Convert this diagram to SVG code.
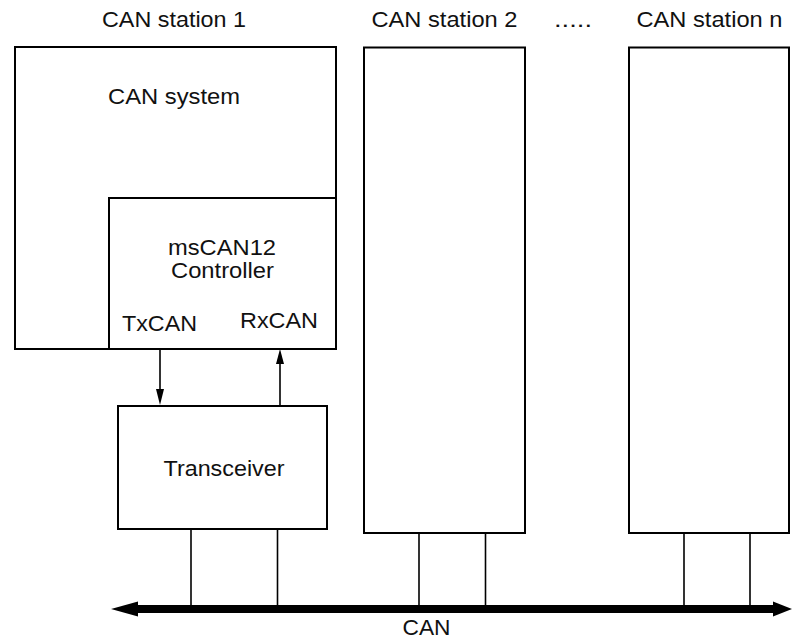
<svg xmlns="http://www.w3.org/2000/svg" width="792" height="639" viewBox="0 0 792 639">
<style>
.box{fill:none;stroke:#000;stroke-width:2}
.ln{fill:none;stroke:#000;stroke-width:1.6}
.t{font-family:"Liberation Sans",Arial,sans-serif;font-size:22px;fill:#111}
</style>
<rect width="792" height="639" fill="#fff"/>
<g id="labels">
<text class="t" x="102" y="27" textLength="144" lengthAdjust="spacingAndGlyphs">CAN station 1</text>
<text class="t" x="371.5" y="27" textLength="146" lengthAdjust="spacingAndGlyphs">CAN station 2</text>
<text class="t" x="554" y="27" textLength="38" lengthAdjust="spacingAndGlyphs">.....</text>
<text class="t" x="636.5" y="27" textLength="146" lengthAdjust="spacingAndGlyphs">CAN station n</text>
</g>
<g id="station1">
<rect class="box" x="15" y="47" width="321" height="302"/>
<text class="t" x="108" y="104" textLength="132" lengthAdjust="spacingAndGlyphs">CAN system</text>
</g>
<g id="controller">
<rect class="box" x="109" y="198" width="227" height="151"/>
<text class="t" x="168" y="255" textLength="108" lengthAdjust="spacingAndGlyphs">msCAN12</text>
<text class="t" x="171" y="278" textLength="103" lengthAdjust="spacingAndGlyphs">Controller</text>
<text class="t" x="122" y="331" textLength="75" lengthAdjust="spacingAndGlyphs">TxCAN</text>
<text class="t" x="240" y="328" textLength="78" lengthAdjust="spacingAndGlyphs">RxCAN</text>
</g>
<g id="transceiver">
<rect class="box" x="118" y="406" width="209" height="123"/>
<text class="t" x="163.5" y="476" textLength="121" lengthAdjust="spacingAndGlyphs">Transceiver</text>
</g>
<g id="station2">
<rect class="box" x="364" y="47.5" width="161" height="485.5"/>
</g>
<g id="stationn">
<rect class="box" x="629" y="47.5" width="160" height="485.5"/>
</g>
<g id="bus">
<line x1="136" y1="609" x2="775" y2="609" stroke="#000" stroke-width="8"/>
<polygon points="111,609 138,601.5 138,616.5" fill="#000"/>
<polygon points="792,609 773,601.5 773,616.5" fill="#000"/>
<text class="t" x="402.5" y="635" textLength="48" lengthAdjust="spacingAndGlyphs">CAN</text>
</g>
<g id="connectors">
<line class="ln" x1="160" y1="349" x2="160" y2="390"/>
<polygon points="160,405 156,389 164,389" fill="#000"/>
<line class="ln" x1="280" y1="406" x2="280" y2="362"/>
<polygon points="280,349 276,364 284,364" fill="#000"/>
<line class="ln" x1="191" y1="529" x2="191" y2="606"/>
<line class="ln" x1="277.5" y1="529" x2="277.5" y2="606"/>
<line class="ln" x1="419" y1="533" x2="419" y2="606"/>
<line class="ln" x1="485.5" y1="533" x2="485.5" y2="606"/>
<line class="ln" x1="684" y1="533" x2="684" y2="606"/>
<line class="ln" x1="750" y1="533" x2="750" y2="606"/>
</g>
</svg>
